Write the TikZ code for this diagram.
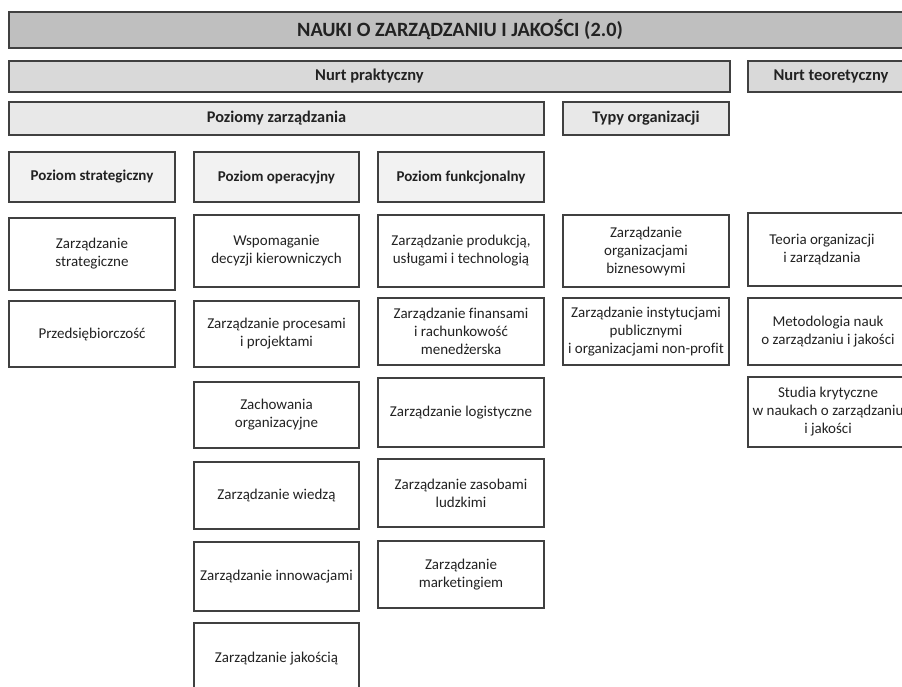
\documentclass[tikz,border=0pt]{standalone}
\usepackage{fontspec}
\setmainfont{Carlito}[Ligatures=NoCommon]
\definecolor{edge}{HTML}{404040}
\definecolor{ink}{HTML}{222222}
\definecolor{fillA}{HTML}{BFBFBF}
\definecolor{fillB}{HTML}{D9D9D9}
\definecolor{fillC}{HTML}{E8E8E8}
\definecolor{fillD}{HTML}{F2F2F2}
\tikzset{
  boxbase/.style={draw=edge, line width=1.1pt, rectangle, inner sep=2pt, align=center, text=ink},
  titlebox/.style={boxbase, fill=fillA, font=\bfseries\fontsize{20.3}{24}\selectfont},
  trendbox/.style={boxbase, fill=fillB, font=\bfseries\fontsize{16.5}{19}\selectfont},
  groupbox/.style={boxbase, fill=fillC, font=\bfseries\fontsize{16.3}{19}\selectfont},
  levelbox/.style={boxbase, fill=fillD, font=\bfseries\fontsize{15}{18}\selectfont},
  itembox/.style={boxbase, fill=white, font=\fontsize{15}{18}\selectfont},
  frame/.style={draw=edge, line width=1.1pt, rectangle, inner sep=0pt},
  label/.style={align=center, text=ink, inner sep=0pt, font=\fontsize{15}{18}\selectfont},
}
\begin{document}
\begin{tikzpicture}[x=1pt, y=-1pt]
\useasboundingbox (0,0) rectangle (902,686);
\clip (0,0) rectangle (902,686);

% top headline
\node[titlebox, minimum width=902pt, minimum height=36pt] (title) at (460,30) {NAUKI O ZARZĄDZANIU I JAKOŚCI (2.0)};

% the two trends
\node[trendbox, minimum width=721pt, minimum height=31pt] (prakt) at (369.5,76.5) {Nurt praktyczny};
\node[trendbox, minimum width=166pt, minimum height=31pt] (teor) at (831,76.5) {Nurt teoretyczny};

% groups of the practical trend
\node[groupbox, minimum width=535pt, minimum height=33pt] (poziomy) at (276.5,118.5) {Poziomy zarządzania};
\node[groupbox, minimum width=166pt, minimum height=33pt] (typy) at (646,118.5) {Typy organizacji};

% management levels
\node[levelbox, minimum width=166pt, minimum height=50pt] (strat) at (92,177) {Poziom strategiczny};
\node[levelbox, minimum width=165pt, minimum height=50pt] (oper) at (276.5,177) {Poziom operacyjny};
\node[levelbox, minimum width=166pt, minimum height=50pt] (funk) at (461,177) {Poziom funkcjonalny};

% strategic level
\node[itembox, minimum width=166pt, minimum height=72pt] (s1) at (92,254) {Zarządzanie\\strategiczne};
\node[itembox, minimum width=166pt, minimum height=66pt] (s2) at (92,334) {Przedsiębiorczość};

% operational level
\node[itembox, minimum width=165pt, minimum height=72pt] (o1) at (276.5,251) {Wspomaganie\\decyzji kierowniczych};
\node[itembox, minimum width=165pt, minimum height=66pt] (o2) at (276.5,334) {Zarządzanie procesami\\i projektami};
\node[itembox, minimum width=165pt, minimum height=66pt] (o3) at (276.5,415) {Zachowania\\organizacyjne};
\node[itembox, minimum width=165pt, minimum height=67pt] (o4) at (276.5,495.5) {Zarządzanie wiedzą};
\node[itembox, minimum width=165pt, minimum height=69pt] (o5) at (276.5,576.5) {Zarządzanie innowacjami};
\node[itembox, minimum width=165pt, minimum height=72pt] (o6) at (276.5,659) {Zarządzanie jakością};

% functional level
\node[itembox, minimum width=166pt, minimum height=72pt] (f1) at (461,251) {Zarządzanie produkcją,\\usługami i technologią};
\node[itembox, minimum width=166pt, minimum height=67pt] (f2) at (461,331.5) {Zarządzanie finansami\\i rachunkowość\\menedżerska};
\node[itembox, minimum width=166pt, minimum height=69pt] (f3) at (461,412.5) {Zarządzanie logistyczne};
\node[itembox, minimum width=166pt, minimum height=68pt] (f4) at (461,493) {Zarządzanie zasobami\\ludzkimi};
\node[itembox, minimum width=166pt, minimum height=67pt] (f5) at (461,574.5) {Zarządzanie\\marketingiem};

% types of organizations
\node[itembox, minimum width=166pt, minimum height=72pt] (t1) at (646,251) {Zarządzanie\\organizacjami\\biznesowymi};
\node[itembox, minimum width=166pt, minimum height=67pt] (t2) at (646,331.5) {Zarządzanie instytucjami\\publicznymi\\i organizacjami non-profit};

% theoretical trend: frames run past the right margin
\node[frame, minimum width=182pt, minimum height=73pt] (r1) at (839,249.5) {};
\node[frame, minimum width=182pt, minimum height=67pt] (r2) at (839,331.5) {};
\node[frame, minimum width=182pt, minimum height=70pt] (r3) at (839,412) {};
\node[label] (r1t) at (822,249.5) {Teoria organizacji\\i zarządzania};
\node[label] (r2t) at (828,331.5) {Metodologia nauk\\o zarządzaniu i jakości};
\node[label] (r3t) at (828,412) {Studia krytyczne\\w naukach o zarządzaniu\\i jakości};
\end{tikzpicture}
\end{document}
